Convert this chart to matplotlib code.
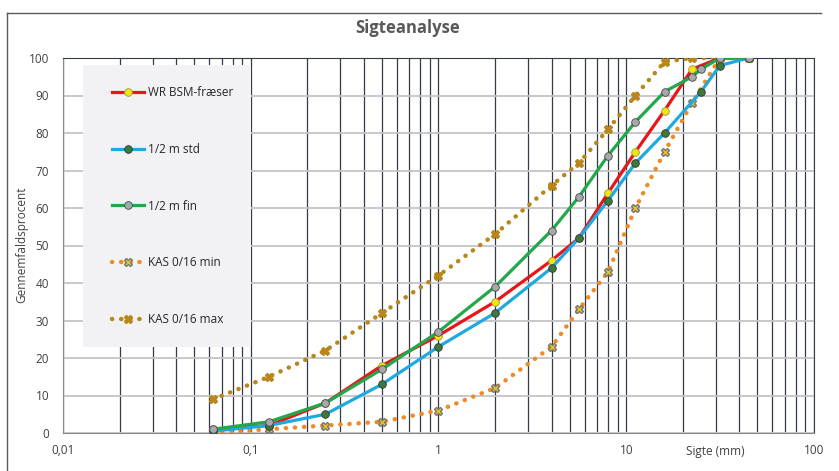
import matplotlib
matplotlib.use("Agg")
import matplotlib.pyplot as plt
import matplotlib.ticker as mticker
from matplotlib.patches import Rectangle
from matplotlib.lines import Line2D

# sieve sizes (mm) and passing percentages
sieve = [0.063, 0.125, 0.25, 0.5, 1, 2, 4, 5.6, 8, 11.2, 16, 22.4, 31.5, 45]
sieve_std = [0.063, 0.125, 0.25, 0.5, 1, 2, 4, 5.6, 8, 11.2, 16, 25, 31.5, 45]
sieve_fin = [0.063, 0.125, 0.25, 0.5, 1, 2, 4, 5.6, 8, 11.2, 16, 22.4, 25, 31.5, 45]

wr_bsm = [1, 2, 8, 18, 26, 35, 46, 52, 64, 75, 86, 97, 100, 100]
half_std = [0.5, 2, 5, 13, 23, 32, 44, 52, 62, 72, 80, 91, 98, 100]
half_fin = [1, 3, 8, 17, 27, 39, 54, 63, 74, 83, 91, 95, 97, 100, 100]
kas_min = [0, 1, 2, 3, 6, 12, 23, 33, 43, 60, 75, 88, 100, 100]
kas_max = [9, 15, 22, 32, 42, 53, 66, 72, 81, 90, 99, 100, 100, 100]

x_ticks = [0.01, 0.1, 1, 10, 100]
x_ticklabels = ["0,01", "0,1", "1", "10", "100"]

plt.rcParams['font.family'] = ['Open Sans', 'DejaVu Sans']
txt = '#404040'

fig = plt.figure(figsize=(8.39, 4.71), dpi=100)
ax = fig.add_axes([63/839, 1-433/471, 751/839, 375/471])

ax.set_xscale('log')
ax.set_xlim(0.01, 100)
ax.set_ylim(0, 100)
ax.set_axisbelow(True)

ax.xaxis.set_major_locator(mticker.FixedLocator(x_ticks))
ax.xaxis.set_major_formatter(mticker.FixedFormatter(x_ticklabels))
ax.xaxis.set_minor_locator(mticker.LogLocator(base=10, subs=range(2, 10)))
ax.xaxis.set_minor_formatter(mticker.NullFormatter())
ax.set_yticks(range(0, 101, 10))

ax.grid(True, which='both', axis='x', color='#343a48', lw=0.9)
ax.grid(True, which='major', axis='y', color='#c4c4c8', lw=1.3)
ax.tick_params(axis='both', which='both', length=0, labelsize=8.5, colors=txt)
ax.tick_params(axis='x', pad=8)
ax.tick_params(axis='y', pad=10)

for s in ['left', 'bottom']:
    ax.spines[s].set_color('#8a8a8a')
for s in ['top', 'right']:
    ax.spines[s].set_color('#343a48')

lw = 2.3
ax.plot(sieve, wr_bsm, color='#e8161b', lw=lw, marker='o', ms=5.5,
        mfc='#f5e30a', mec='#9a9a40', mew=0.6, label='WR BSM-fræser', zorder=4)
ax.plot(sieve_std, half_std, color='#1fa9e1', lw=lw, marker='o', ms=5.5,
        mfc='#3d7a3a', mec='#333333', mew=0.6, label='1/2 m std', zorder=4)
ax.plot(sieve_fin, half_fin, color='#22a84a', lw=lw, marker='o', ms=5.5,
        mfc='#a8a8ac', mec='#444444', mew=0.6, label='1/2 m fin', zorder=5)
ax.plot(sieve, kas_min, color='#f08a24', lw=3.2, ls=(0, (0.05, 2.0)),
        dash_capstyle='round', marker='X', ms=6, mfc='#e8c020', mec='#777777',
        mew=1.0, label='KAS 0/16 min', zorder=3)
ax.plot(sieve, kas_max, color='#b8861a', lw=3.2, ls=(0, (0.05, 2.0)),
        dash_capstyle='round', marker='X', ms=6, mfc='#b8861a', mec='#b8861a',
        mew=1.0, label='KAS 0/16 max', zorder=3)

# legend background box
ax.add_patch(Rectangle((20/751, 86/375), 168/751, 282/375, transform=ax.transAxes,
                       facecolor='#f2f2f5', edgecolor='none', zorder=1))
leg = ax.legend(loc='upper left', bbox_to_anchor=(28/751, 1-7/375), frameon=False,
                fontsize=8.5, labelspacing=3.7, handlelength=2.7, handletextpad=0.3,
                borderpad=1.8, borderaxespad=0)
for t in leg.get_texts():
    t.set_color('#262626')

fig.text(408/839, 1-28/471, 'Sigteanalyse', ha='center', va='center',
         fontsize=12, fontweight='bold', color='#595959')
fig.text(715/839, 1-452/471, 'Sigte (mm)', ha='center', va='center',
         fontsize=8.5, color=txt)
fig.text(22/839, 1-245/471, 'Gennemfaldsprocent', ha='center', va='center',
         rotation=90, fontsize=8.5, color=txt)

# outer chart frame
fig.add_artist(Line2D([7/839, 7/839], [0, 1-13/471], color='#595959', lw=1.0))
fig.add_artist(Line2D([7/839, 821/839], [1-13/471, 1-13/471], color='#595959', lw=1.0))

fig.savefig('out.png', dpi=100)
